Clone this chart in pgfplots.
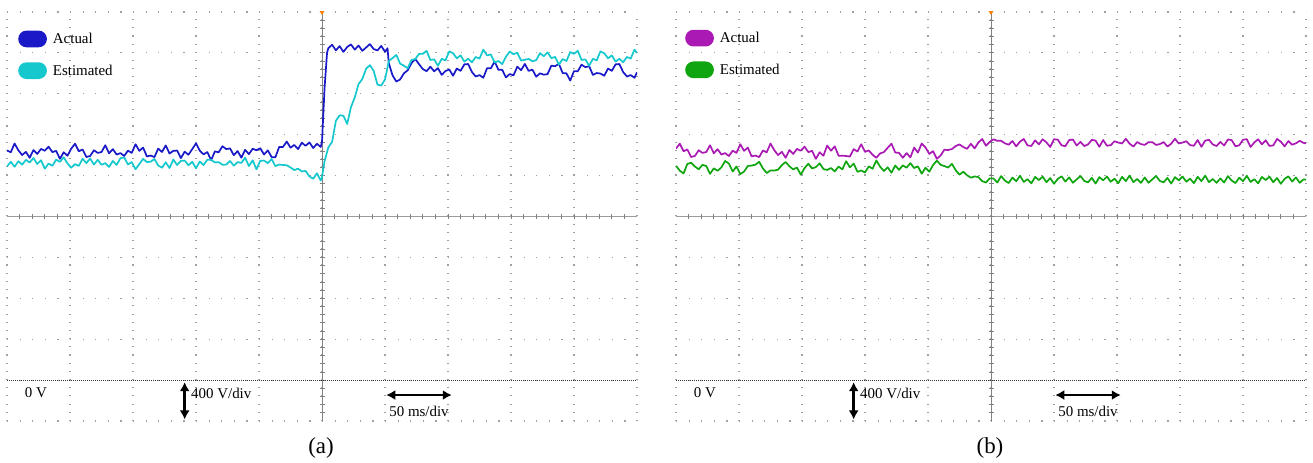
\documentclass[border=0pt]{standalone}
\usepackage{pgfplots}
\pgfplotsset{compat=1.18}
\usepackage{fontspec}
\setmainfont{Liberation Serif}
\usetikzlibrary{arrows.meta}

\definecolor{gridgray}{RGB}{160,160,160}
\definecolor{crossgray}{RGB}{130,130,130}
\definecolor{actA}{RGB}{25,25,200}
\definecolor{estA}{RGB}{20,200,205}
\definecolor{actB}{RGB}{170,25,180}
\definecolor{estB}{RGB}{15,165,15}

\newcommand\labelfont{\fontsize{15}{18}\selectfont}

\pgfplotsset{
  scopeaxis/.style={
    scale only axis, width=630bp, height=409bp,
    xmin=-250, xmax=250, ymin=-400, ymax=3600,
    axis line style={draw=none},
    xtick={-250,-200,...,250}, ytick={-400,0,...,3600},
    xticklabels={}, yticklabels={},
    major tick length=0pt,
    grid=major,
    x grid style={draw=gridgray, line width=1.1bp, dash pattern=on 1.1bp off 7.08bp},
    y grid style={draw=gridgray, line width=1.1bp, dash pattern=on 1.1bp off 11.5bp},
    legend cell align=left,
    legend style={anchor=north west, draw=none, fill=none, inner sep=0pt,
      font=\labelfont, row sep=15bp, nodes={inner xsep=6bp, inner ysep=0bp}},
    legend image code/.code={\fill[rounded corners=7.5bp] (0bp,-7.5bp) rectangle (27bp,7.5bp);},
    every axis plot/.append style={line width=1.7bp, line join=round},
  },
}

% graticule: centre cross with minor ticks, ground reference and trigger mark
\newcommand\graticule{%
  \draw[crossgray!80, line width=0.9bp] (axis cs:-250,1600) -- (axis cs:250,1600);
  \draw[crossgray, line width=0.9bp] (axis cs:0,-400) -- (axis cs:0,3600);
  \pgfplotsinvokeforeach{-240,-230,...,240}{\draw[crossgray, line width=0.8bp] (axis cs:##1,1600) ++(0bp,-2.5bp) -- ++(0bp,5bp);}
  \pgfplotsinvokeforeach{-320,-240,...,3520}{\draw[crossgray, line width=0.8bp] (axis cs:0,##1) ++(-2.5bp,0bp) -- ++(5bp,0bp);}
  \draw[black!80, line width=0.8bp, dash pattern=on 1bp off 1bp] (axis cs:-250,0) -- (axis cs:250,0);
  \fill[orange] (axis cs:0,3600) ++(-2.5bp,1bp) -- ++(5bp,0bp) -- ++(-2.5bp,-4bp) -- cycle;
  \node[anchor=west, font=\labelfont, inner sep=0pt] at (axis cs:-236,-125) {0 V};
  \draw[{Latex[length=9bp,width=10bp]}-{Latex[length=9bp,width=10bp]}, line width=2.4bp]
    (axis cs:-109,-20) -- (axis cs:-109,-385);
  \node[anchor=west, font=\labelfont, inner sep=0pt] at (axis cs:-104,-135) {400 V/div};
  \draw[{Latex[length=9bp,width=10bp]}-{Latex[length=9bp,width=10bp]}, line width=2.4bp]
    (axis cs:51,-146) -- (axis cs:103,-146);
  \node[font=\labelfont, inner sep=0pt] at (axis cs:77,-305) {50 ms/div};
}

\begin{document}
\begin{tikzpicture}
\useasboundingbox (0,0) rectangle (1313bp,463bp);

% ---------------- (a) ----------------
\begin{axis}[scopeaxis, at={(7bp,42bp)}, anchor=south west,
  legend style={at={(axis description cs:0.0175,0.955)}}]
\graticule
\addplot[actA] coordinates {
(-250,2246) (-247,2228) (-244,2314) (-241,2248) (-238,2201) (-235,2232) (-232,2174) (-229,2250) (-226,2212) (-223,2261)
(-220,2243) (-217,2283) (-214,2230) (-211,2242) (-208,2164) (-205,2228) (-202,2194) (-199,2264) (-196,2312) (-193,2238)
(-190,2256) (-187,2182) (-184,2192) (-181,2248) (-178,2222) (-175,2230) (-172,2297) (-169,2218) (-166,2259) (-163,2206)
(-160,2220) (-157,2192) (-154,2244) (-151,2222) (-148,2307) (-145,2242) (-142,2274) (-139,2188) (-136,2196) (-133,2181)
(-130,2264) (-127,2231) (-124,2295) (-121,2216) (-118,2242) (-115,2245) (-112,2171) (-109,2234) (-106,2204) (-103,2259)
(-100,2315) (-97,2244) (-94,2208) (-91,2230) (-88,2151) (-85,2237) (-82,2228) (-79,2287) (-76,2259) (-73,2266)
(-70,2200) (-67,2240) (-64,2175) (-61,2252) (-58,2210) (-55,2263) (-52,2248) (-49,2268) (-46,2206) (-43,2247)
(-40,2181) (-37,2179) (-34,2280) (-31,2280) (-28,2333) (-25,2273) (-22,2300) (-19,2259) (-16,2322) (-13,2291)
(-10,2325) (-7,2270) (-4,2311) (-1,2280) (0,2330) (2,2850) (4,3200)
(5,3246) (8,3280) (11,3225) (14,3266) (17,3210) (20,3258) (23,3283) (26,3232) (29,3272) (32,3220)
(35,3253) (38,3286) (41,3238) (44,3224) (47,3268) (50,3212) (52,3245) (53,3100) (56,2980) (59,2920)
(62,2940) (65,3000) (68,3030) (71,3100) (74,3140) (77,3090)
(80,3042) (83,3021) (86,3065) (89,3020) (92,3051) (95,2985) (98,3023) (101,3038) (104,2977) (107,3047)
(110,3025) (113,3088) (116,3091) (119,3013) (122,2969) (125,2983) (128,2957) (131,3050) (134,3049) (137,3116)
(140,3035) (143,3035) (146,2961) (149,2993) (152,2981) (155,3065) (158,3031) (161,3092) (164,3024) (167,3037)
(170,2967) (173,3000) (176,2987) (179,2992) (182,3075) (185,3070) (188,3093) (191,3003) (194,3000) (197,2929)
(200,3022) (203,3021) (206,3085) (209,3060) (212,3071) (215,2985) (218,3003) (221,2998) (224,2977) (227,3047)
(230,3025) (233,3088) (236,3091) (239,3013) (242,2969) (245,2983) (248,2957) (250,3010)
};
\addlegendentry{Actual}
\addplot[estA] coordinates {
(-250,2089) (-247,2135) (-244,2086) (-241,2141) (-238,2107) (-235,2154) (-232,2128) (-229,2172) (-226,2113) (-223,2150)
(-220,2068) (-217,2117) (-214,2096) (-211,2156) (-208,2134) (-205,2179) (-202,2119) (-199,2077) (-196,2112) (-193,2095)
(-190,2165) (-187,2122) (-184,2167) (-181,2108) (-178,2154) (-175,2106) (-172,2122) (-169,2085) (-166,2143) (-163,2104)
(-160,2170) (-157,2177) (-154,2109) (-151,2132) (-148,2062) (-145,2113) (-142,2163) (-139,2132) (-136,2136) (-133,2162)
(-130,2099) (-127,2077) (-124,2130) (-121,2074) (-118,2157) (-115,2104) (-112,2144) (-109,2147) (-106,2101) (-103,2135)
(-100,2072) (-97,2138) (-94,2103) (-91,2156) (-88,2154) (-85,2129) (-82,2132) (-79,2106) (-76,2108) (-73,2143)
(-70,2097) (-67,2132) (-64,2124) (-61,2175) (-58,2093) (-55,2150) (-52,2061) (-49,2145) (-46,2147) (-43,2122)
(-40,2162) (-37,2093) (-34,2108) (-31,2104) (-28,2101) (-25,2080) (-22,2054) (-19,2068) (-16,2041) (-13,2045)
(-10,1992) (-7,1969) (-4,2023) (-1,1951) (0,1985)
(2,2140) (5,2275) (8,2330) (11,2535) (14,2590) (17,2585) (20,2505) (23,2670) (26,2765) (29,2895)
(32,2945) (35,3045) (38,3080) (41,3025) (44,2890) (47,2880) (50,2940) (53,3120) (56,3150) (59,3180)
(62,3095) (65,3075) (68,3050) (71,3130) (74,3140) (77,3190)
(80,3191) (83,3220) (86,3131) (89,3137) (92,3074) (95,3142) (98,3127) (101,3215) (104,3197) (107,3147)
(110,3175) (113,3115) (116,3143) (119,3108) (122,3160) (125,3144) (128,3232) (131,3176) (134,3185) (137,3105)
(140,3121) (143,3090) (146,3163) (149,3213) (152,3187) (155,3202) (158,3125) (161,3133) (164,3141) (167,3118)
(170,3129) (173,3198) (176,3167) (179,3205) (182,3149) (185,3161) (188,3085) (191,3140) (194,3121) (197,3208)
(200,3191) (203,3220) (206,3131) (209,3137) (212,3074) (215,3142) (218,3127) (221,3215) (224,3197) (227,3147)
(230,3175) (233,3115) (236,3143) (239,3108) (242,3160) (245,3144) (248,3232) (250,3200)
};
\addlegendentry{Estimated}
\end{axis}

% ---------------- (b) ----------------
\begin{axis}[scopeaxis, at={(676bp,42bp)}, anchor=south west,
  legend style={at={(axis description cs:0.0143,0.957)}}]
\graticule
\addplot[actB] coordinates {
(-250,2264) (-247,2312) (-244,2238) (-241,2256) (-238,2182) (-235,2192) (-232,2248) (-229,2222) (-226,2230) (-223,2297)
(-220,2218) (-217,2259) (-214,2206) (-211,2220) (-208,2192) (-205,2244) (-202,2222) (-199,2307) (-196,2242) (-193,2274)
(-190,2188) (-187,2196) (-184,2181) (-181,2246) (-178,2228) (-175,2314) (-172,2248) (-169,2201) (-166,2232) (-163,2174)
(-160,2250) (-157,2212) (-154,2261) (-151,2243) (-148,2283) (-145,2230) (-142,2242) (-139,2164) (-136,2228) (-133,2194)
(-130,2294) (-127,2243) (-124,2286) (-121,2194) (-118,2194) (-115,2192) (-112,2186) (-109,2259) (-106,2236) (-103,2307)
(-100,2232) (-97,2246) (-94,2204) (-91,2174) (-88,2217) (-85,2230) (-82,2272) (-79,2312) (-76,2226) (-73,2222)
(-70,2174) (-67,2220) (-64,2178) (-61,2274) (-58,2225) (-55,2314) (-52,2276) (-49,2212) (-46,2239) (-43,2164)
(-40,2197) (-37,2253) (-34,2250) (-31,2260) (-28,2289) (-25,2305) (-22,2279) (-19,2262) (-16,2311) (-13,2266)
(-10,2324) (-7,2358) (-4,2292) (-1,2330) (2,2355) (5,2340)
(8,2340) (11,2316) (14,2302) (17,2338) (20,2286) (23,2332) (26,2358) (29,2295) (32,2290) (35,2345)
(38,2306) (41,2355) (44,2325) (47,2280) (50,2356) (53,2351) (56,2296) (59,2287) (62,2347) (65,2353)
(68,2294) (71,2330) (74,2289) (77,2305) (80,2350) (83,2342) (86,2282) (89,2348) (92,2292) (95,2298)
(98,2336) (101,2323) (104,2314) (107,2360) (110,2312) (113,2284) (116,2328) (119,2308) (122,2300) (125,2327)
(128,2327) (131,2300) (134,2308) (137,2328) (140,2284) (143,2312) (146,2360) (149,2314) (152,2323) (155,2336)
(158,2298) (161,2292) (164,2348) (167,2282) (170,2342) (173,2350) (176,2305) (179,2289) (182,2330) (185,2294)
(188,2353) (191,2347) (194,2287) (197,2296) (200,2351) (203,2356) (206,2280) (209,2325) (212,2355) (215,2306)
(218,2345) (221,2290) (224,2295) (227,2358) (230,2332) (233,2286) (236,2338) (239,2302) (242,2316) (245,2340)
(248,2320) (250,2315)
};
\addlegendentry{Actual}
\addplot[estB] coordinates {
(-250,2096) (-247,2048) (-244,2021) (-241,2114) (-238,2126) (-235,2089) (-232,2062) (-229,2105) (-226,2094) (-223,2017)
(-220,2071) (-217,2047) (-214,2080) (-211,2143) (-208,2117) (-205,2040) (-202,2089) (-199,2015) (-196,2039) (-193,2094)
(-190,2098) (-187,2107) (-184,2135) (-181,2070) (-178,2025) (-175,2051) (-172,2049) (-169,2058) (-166,2102) (-163,2133)
(-160,2091) (-157,2060) (-154,2079) (-151,2009) (-148,2073) (-145,2116) (-142,2070) (-139,2083) (-136,2120) (-133,2064)
(-130,2055) (-127,2074) (-124,2041) (-121,2088) (-118,2061) (-115,2141) (-112,2081) (-109,2118) (-106,2037) (-103,2050)
(-100,2030) (-97,2090) (-94,2067) (-91,2148) (-88,2087) (-85,2045) (-82,2081) (-79,2028) (-76,2099) (-73,2056)
(-70,2100) (-67,2077) (-64,2122) (-61,2074) (-58,2091) (-55,2018) (-52,2077) (-49,2038) (-46,2103) (-43,2146)
(-40,2106) (-37,2093) (-34,2079) (-31,2115) (-28,2052) (-25,2009) (-22,2038) (-19,2003) (-16,1980) (-13,1992)
(-10,1985) (-7,1946) (-4,1932) (-1,1973)
(2,1972) (5,1932) (8,1995) (11,1952) (14,1927) (17,1980) (20,1945) (23,1998) (26,1938) (29,1965)
(32,1924) (35,1987) (38,1956) (41,1990) (44,1935) (47,1976) (50,1920) (53,1968) (56,1993) (59,1942)
(62,1982) (65,1930) (68,1963) (71,1996) (74,1948) (77,1934) (80,1978) (83,1922) (86,1985) (89,1954)
(92,1991) (95,1940) (98,1970) (101,1926) (104,1988) (107,1946) (110,2000) (113,1936) (116,1967) (119,1929)
(122,1982) (125,1930) (128,1963) (131,1996) (134,1948) (137,1934) (140,1978) (143,1922) (146,1985) (149,1954)
(152,1991) (155,1940) (158,1970) (161,1926) (164,1988) (167,1946) (170,2000) (173,1936) (176,1967) (179,1929)
(182,1972) (185,1932) (188,1995) (191,1952) (194,1927) (197,1980) (200,1945) (203,1998) (206,1938) (209,1965)
(212,1924) (215,1987) (218,1956) (221,1990) (224,1935) (227,1976) (230,1920) (233,1968) (236,1993) (239,1942)
(242,1982) (245,1930) (248,1963) (250,1960)
};
\addlegendentry{Estimated}
\end{axis}

\node[font=\fontsize{23}{26}\selectfont] at (321bp,15bp) {(a)};
\node[font=\fontsize{23}{26}\selectfont] at (990bp,15bp) {(b)};
\end{tikzpicture}
\end{document}
